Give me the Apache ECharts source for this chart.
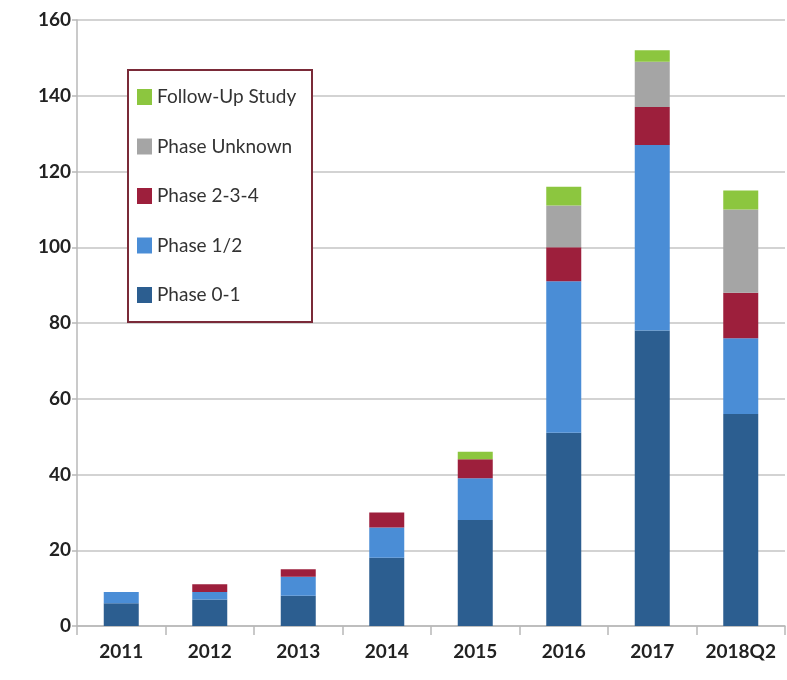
<!DOCTYPE html>
<html>
<head>
<meta charset="utf-8">
<script src="https://cdn.jsdelivr.net/npm/echarts@6/dist/echarts.min.js"></script>
<style>
  html, body { margin: 0; padding: 0; background: #ffffff; }
  #chart { width: 787px; height: 680px; }
</style>
</head>
<body>
<div id="chart"></div>
<script>
// Trial counts per period, stacked by phase
const categories = ['2011', '2012', '2013', '2014', '2015', '2016', '2017', '2018Q2'];
const phase01     = [6, 7, 8, 18, 28, 51, 78, 56];
const phase12     = [3, 2, 5, 8, 11, 40, 49, 20];
const phase234    = [0, 2, 2, 4, 5, 9, 10, 12];
const phaseUnknown = [0, 0, 0, 0, 0, 11, 12, 22];
const followUp    = [0, 0, 0, 0, 2, 5, 3, 5];
const yTicks = [0, 20, 40, 60, 80, 100, 120, 140, 160];

const seriesDefs = [
  { name: 'Phase 0-1', data: phase01, color: '#2c5e90' },
  { name: 'Phase 1/2', data: phase12, color: '#4a8dd6' },
  { name: 'Phase 2-3-4', data: phase234, color: '#9d1f3c' },
  { name: 'Phase Unknown', data: phaseUnknown, color: '#a5a5a5' },
  { name: 'Follow-Up Study', data: followUp, color: '#8cc63f' }
];

const font = 'Lato, "Liberation Sans", sans-serif';
const chart = echarts.init(document.getElementById('chart'), null, { renderer: 'canvas' });

chart.setOption({
  animation: false,
  backgroundColor: '#ffffff',
  grid: { left: 77, right: 2, top: 20, bottom: 54, containLabel: false },
  legend: {
    orient: 'vertical',
    left: 128,
    top: 70,
    data: seriesDefs.map(s => s.name).reverse(),
    icon: 'rect',
    itemWidth: 15,
    itemHeight: 16,
    itemGap: 29.5,
    padding: [17, 9, 17, 9],
    backgroundColor: '#ffffff',
    borderColor: '#7a2a38',
    borderWidth: 2,
    borderRadius: 0,
    textStyle: { fontFamily: font, fontSize: 19, color: '#333333', lineHeight: 20, width: 146 },
    z: 10
  },
  xAxis: {
    type: 'category',
    data: categories,
    axisLine: { lineStyle: { color: '#b8b8b8', width: 1.5 } },
    axisTick: { show: true, length: 9, lineStyle: { color: '#b8b8b8', width: 1.5 } },
    axisLabel: { interval: 0, fontFamily: font, fontSize: 19, fontWeight: 'bold', color: '#222222', margin: 16 }
  },
  yAxis: {
    type: 'value',
    min: yTicks[0],
    max: yTicks[yTicks.length - 1],
    interval: 20,
    axisLine: { show: true, lineStyle: { color: '#b8b8b8', width: 1.5 } },
    axisTick: { show: true, length: 5, lineStyle: { color: '#b8b8b8', width: 1.5 } },
    splitLine: { lineStyle: { color: '#c4c4c4', width: 1.5 } },
    axisLabel: { fontFamily: font, fontSize: 19, fontWeight: 'bold', color: '#222222', margin: 6 }
  },
  series: seriesDefs.map(s => ({
    name: s.name,
    type: 'bar',
    stack: 'total',
    data: s.data,
    barWidth: 35,
    itemStyle: { color: s.color }
  }))
});
</script>
</body>
</html>
